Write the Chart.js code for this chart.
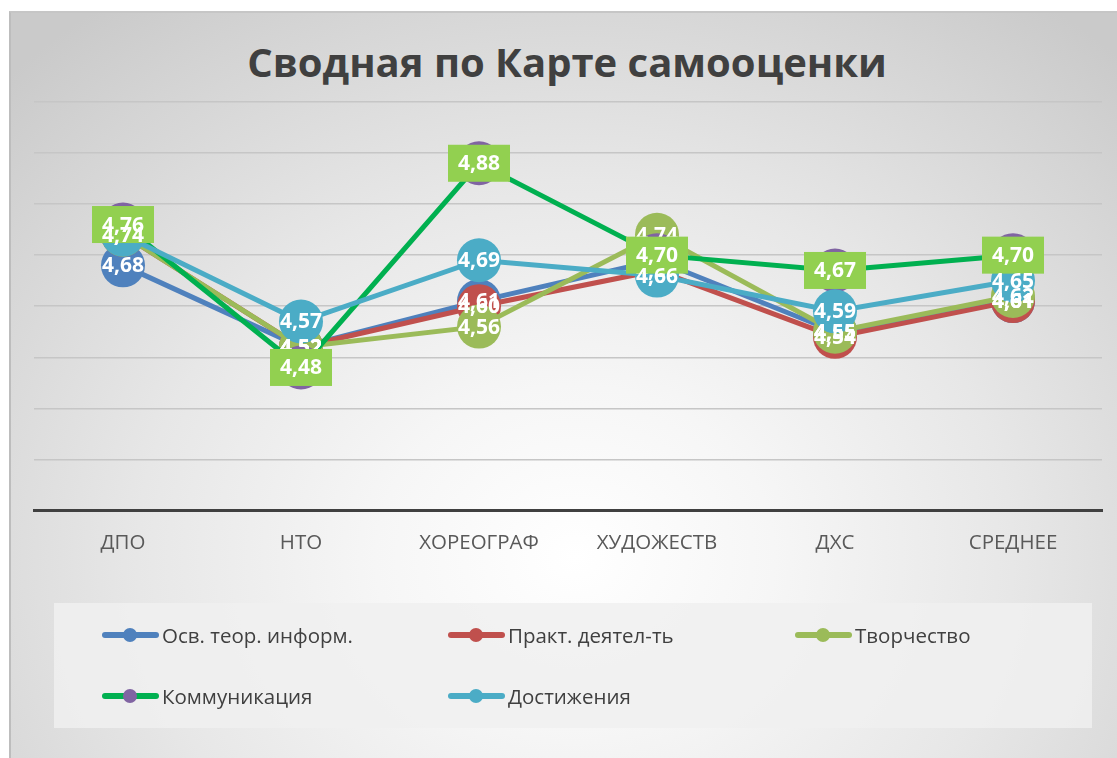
<!DOCTYPE html>
<html lang="ru">
<head>
<meta charset="utf-8">
<title>Сводная по Карте самооценки</title>
<script src="https://cdn.jsdelivr.net/npm/chart.js@4/dist/chart.umd.min.js"></script>
<style>
  html, body { margin: 0; padding: 0; background: #fff; }
  body { width: 1117px; height: 758px; position: relative; overflow: hidden; font-family: 'Open Sans', sans-serif; }
  .frame {
    position: absolute; left: 9px; top: 11px; width: 1108px; height: 747px;
    box-sizing: border-box; border-left: 2px solid #bdbdbd; border-top: 2px solid #c6c6c6;
    background: radial-gradient(ellipse 72% 92% at 51% 73%, #ffffff 0%, #f6f6f6 25%, #e7e7e7 55%, #d4d4d4 85%, #cacaca 100%);
  }
  .title {
    position: absolute; left: 0; top: 36px; width: 1134px; text-align: center;
    font: bold 40px/52px 'Open Sans', sans-serif; color: #404040;
  }
  #chart { position: absolute; left: 0; top: 0; }
  .legend {
    position: absolute; left: 54px; top: 603px; width: 1038px; height: 125px;
    background: rgba(240, 240, 240, 0.85);
  }
  .item { position: absolute; height: 24px; display: flex; align-items: center; font-size: 20.5px; color: #404040; white-space: nowrap; }
  .sym { position: relative; width: 57px; height: 24px; margin-right: 3px; }
  .sym .ln { position: absolute; left: 0; right: 0; top: 9px; height: 6px; border-radius: 3px; }
  .sym .dot { position: absolute; left: 21px; top: 5px; width: 14px; height: 14px; border-radius: 50%; }
</style>
</head>
<body>
<div class="frame"></div>
<div class="title">Сводная по Карте самооценки</div>
<canvas id="chart" width="1117" height="758"></canvas>
<div class="legend" id="legend"></div>
<script>
// категории и значения
const categories = ['ДПО', 'НТО', 'ХОРЕОГРАФ', 'ХУДОЖЕСТВ', 'ДХС', 'СРЕДНЕЕ'];
const seriesNames = ['Осв. теор. информ.', 'Практ. деятел-ть', 'Творчество', 'Коммуникация', 'Достижения'];

const osvTeor = [4.68, 4.52, 4.61, 4.69, 4.55, 4.61];
const praktDeyat = [4.74, 4.52, 4.60, 4.67, 4.54, 4.61];
const tvorchestvo = [4.74, 4.52, 4.56, 4.74, 4.55, 4.62];
const kommunikaciya = [4.76, 4.48, 4.88, 4.70, 4.67, 4.70];
const dostizheniya = [4.74, 4.57, 4.69, 4.66, 4.59, 4.65];

const yMin = 4.2;
const yMax = 5.0;
const yStep = 0.1;

const lineColors = ['#4F81BD', '#C0504D', '#9BBB59', '#00B050', '#4BACC6'];
const markerColors = ['#4F81BD', '#C0504D', '#9BBB59', '#8064A2', '#4BACC6'];
const allValues = [osvTeor, praktDeyat, tvorchestvo, kommunikaciya, dostizheniya];

const datasets = allValues.map((vals, i) => ({
  label: seriesNames[i],
  data: vals,
  borderColor: lineColors[i],
  backgroundColor: markerColors[i],
  borderWidth: 5,
  pointRadius: 22,
  pointHoverRadius: 22,
  pointBackgroundColor: markerColors[i],
  pointBorderWidth: 0,
  tension: 0,
  clip: false,
  order: allValues.length - 1 - i
}));

function fmt(v) {
  return v.toFixed(2).replace('.', ',');
}

// подписи значений поверх точек
const valueLabels = {
  id: 'valueLabels',
  afterDatasetsDraw(chart) {
    const ctx = chart.ctx;
    ctx.save();
    ctx.font = 'bold 21px "Open Sans", sans-serif';
    ctx.textAlign = 'center';
    ctx.textBaseline = 'middle';
    chart.data.datasets.forEach((ds, i) => {
      const meta = chart.getDatasetMeta(i);
      meta.data.forEach((pt, j) => {
        if (i === 3) {
          ctx.fillStyle = '#92D050';
          ctx.fillRect(pt.x - 31, pt.y - 18.5, 62, 37);
        }
        ctx.fillStyle = '#ffffff';
        ctx.fillText(fmt(ds.data[j]), pt.x, pt.y + 1);
      });
    });
    ctx.restore();
  }
};

new Chart(document.getElementById('chart'), {
  type: 'line',
  data: { labels: categories, datasets: datasets },
  options: {
    responsive: false,
    devicePixelRatio: 1,
    animation: false,
    layout: { autoPadding: false, padding: { left: 34, right: 15, top: 102, bottom: 183 } },
    plugins: {
      legend: { display: false },
      title: { display: false },
      tooltip: { enabled: false }
    },
    scales: {
      x: {
        offset: true,
        grid: { display: false, drawTicks: false },
        border: { display: true, color: '#404040', width: 3 },
        ticks: { color: '#595959', padding: 20, font: { family: 'Open Sans', size: 20.5 } }
      },
      y: {
        min: yMin,
        max: yMax,
        grid: { color: '#c6c6c6', lineWidth: 1.5, drawTicks: false },
        border: { display: false },
        ticks: { display: false, stepSize: yStep }
      }
    }
  },
  plugins: [valueLabels]
});

// легенда: три колонки, две строки
const legendEl = document.getElementById('legend');
const colX = [48, 394, 741];
const rowY = [20, 81];
seriesNames.forEach((name, i) => {
  const item = document.createElement('div');
  item.className = 'item';
  item.style.left = colX[i % 3] + 'px';
  item.style.top = rowY[Math.floor(i / 3)] + 'px';
  const sym = document.createElement('span');
  sym.className = 'sym';
  const ln = document.createElement('span');
  ln.className = 'ln';
  ln.style.background = lineColors[i];
  const dot = document.createElement('span');
  dot.className = 'dot';
  dot.style.background = markerColors[i];
  sym.appendChild(ln);
  sym.appendChild(dot);
  const txt = document.createElement('span');
  txt.textContent = name;
  item.appendChild(sym);
  item.appendChild(txt);
  legendEl.appendChild(item);
});
</script>
</body>
</html>
